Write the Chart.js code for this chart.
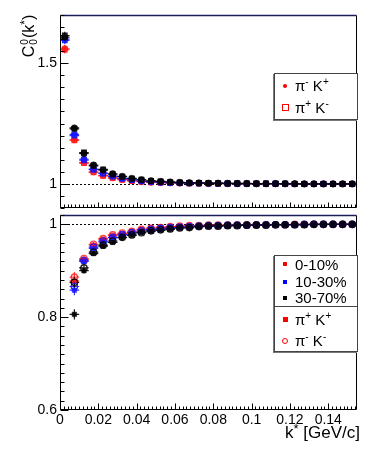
<!DOCTYPE html>
<html><head><meta charset="utf-8">
<script src="https://cdn.jsdelivr.net/npm/chart.js@4/dist/chart.umd.min.js"></script>
<style>
html,body{margin:0;padding:0;background:#fff;}
#wrap{position:relative;width:382px;height:457px;overflow:hidden;font-family:"Liberation Sans",Arial,Helvetica,sans-serif;color:#000;}
canvas{position:absolute;left:0;top:0;}
.leg{position:absolute;background:#fff;border:1px solid #444;box-shadow:-1px 1px 0 #777;box-sizing:border-box;}
.ent{position:absolute;left:20px;font-size:15px;line-height:15px;white-space:nowrap;}
.ent sup{font-size:10px;vertical-align:6px;line-height:0;}
.mk{position:absolute;box-sizing:border-box;}
#ytitle{position:absolute;left:-6px;top:26px;width:70px;height:20px;transform:rotate(-90deg);font-size:16px;line-height:20px;white-space:nowrap;text-align:center;}
#ytitle .ss{display:inline-block;vertical-align:middle;font-size:10px;line-height:9px;text-align:left;margin:0 1px 0 1px;position:relative;top:-1px;}
#ytitle .ss span{display:block;}
#xtitle{position:absolute;right:22px;top:424px;font-size:17px;line-height:18px;white-space:nowrap;}
#xtitle sup{font-size:13px;vertical-align:5px;line-height:0;}
</style>
</head><body>
<div id="wrap">
<canvas id="c1" width="382" height="457"></canvas>
<canvas id="c2" width="382" height="457"></canvas>
<div id="ytitle">C<span class="ss"><span>0</span><span>0</span></span>(k<sup style="font-size:12px;vertical-align:5px;line-height:0">*</sup>)</div>
<div id="xtitle">k<sup>*</sup> [GeV/c]</div>

<div class="leg" style="left:274px;top:73px;width:84px;height:47px;">
  <div class="mk" style="left:8px;top:10px;width:4px;height:4px;border-radius:50%;background:#f00;"></div>
  <div class="ent" style="top:4px;">π<sup>-</sup> K<sup>+</sup></div>
  <div class="mk" style="left:7px;top:30px;width:7px;height:7px;border:1.5px solid #f00;background:#fff;"></div>
  <div class="ent" style="top:26px;">π<sup>+</sup> K<sup>-</sup></div>
</div>

<div class="leg" style="left:274px;top:255px;width:84px;height:52px;">
  <div class="mk" style="left:8px;top:6px;width:4px;height:4px;background:#f00;"></div>
  <div class="ent" style="top:1px;">0-10%</div>
  <div class="mk" style="left:8px;top:24px;width:4px;height:4px;background:#00f;"></div>
  <div class="ent" style="top:18px;">10-30%</div>
  <div class="mk" style="left:8px;top:40px;width:4px;height:4px;background:#000;"></div>
  <div class="ent" style="top:34px;">30-70%</div>
</div>
<div class="leg" style="left:274px;top:306px;width:84px;height:46px;">
  <div class="mk" style="left:8px;top:10px;width:5px;height:5px;background:#f00;"></div>
  <div class="ent" style="top:5px;">π<sup>+</sup> K<sup>+</sup></div>
  <div class="mk" style="left:7px;top:31px;width:6px;height:6px;border:1.3px solid #f00;border-radius:50%;background:#fff;"></div>
  <div class="ent" style="top:26px;">π<sup>-</sup> K<sup>-</sup></div>
</div>
</div>

<script>
// ---------- data ----------
const kTop = [0.0025,0.0075,0.0125,0.0175,0.0225,0.0275,0.0325,0.0375,0.0425,0.0475,0.0525,0.0575,0.0625,0.0675,0.0725,0.0775,0.0825,0.0875,0.0925,0.0975,0.1025,0.1075,0.1125,0.1175,0.1225,0.1275,0.1325,0.1375,0.1425,0.1475,0.1525];
const topRedPmKp  = [1.560,1.183,1.088,1.050,1.035,1.025,1.018,1.013,1.009,1.007,1.005,1.004,1.003,1.003,1.002,1.002,1.002,1.001,1.001,1.001,1.001,1.001,1.001,1.000,1.000,1.000,1.000,1.000,1.000,1.000,1.000];
const topRedPpKm  = [1.556,1.180,1.086,1.048,1.033,1.024,1.017,1.012,1.009,1.006,1.005,1.004,1.003,1.002,1.002,1.002,1.001,1.001,1.001,1.001,1.001,1.001,1.000,1.000,1.000,1.000,1.000,1.000,1.000,1.000,1.000];
const topBluePmKp = [1.600,1.205,1.102,1.061,1.045,1.032,1.023,1.017,1.012,1.009,1.007,1.005,1.004,1.003,1.003,1.002,1.002,1.002,1.001,1.001,1.001,1.001,1.001,1.001,1.000,1.000,1.000,1.000,1.000,1.000,1.000];
const topBluePpKm = [1.595,1.200,1.098,1.059,1.043,1.031,1.022,1.016,1.012,1.009,1.006,1.005,1.004,1.003,1.002,1.002,1.002,1.001,1.001,1.001,1.001,1.001,1.001,1.000,1.000,1.000,1.000,1.000,1.000,1.000,1.000];
const topBlackPmKp= [1.608,1.232,1.126,1.078,1.057,1.042,1.031,1.023,1.017,1.013,1.010,1.008,1.006,1.005,1.004,1.003,1.003,1.002,1.002,1.002,1.001,1.001,1.001,1.001,1.001,1.000,1.000,1.000,1.000,1.000,1.000];
const topBlackPpKm= [1.615,1.228,1.130,1.075,1.060,1.040,1.030,1.022,1.017,1.012,1.010,1.007,1.006,1.004,1.004,1.003,1.002,1.002,1.002,1.001,1.001,1.001,1.001,1.001,1.000,1.000,1.000,1.000,1.000,1.000,1.000];
const errTop = [0.016,0.008,0.006,0.005,0.004,0.004,0.003,0.003,0.003,0.003,0.002,0.002,0.002,0.002,0.002,0.002,0.002,0.002,0.002,0.002,0.002,0.002,0.002,0.002,0.002,0.002,0.002,0.002,0.002,0.002,0.002];

const kBot = [0.0075,0.0125,0.0175,0.0225,0.0275,0.0325,0.0375,0.0425,0.0475,0.0525,0.0575,0.0625,0.0675,0.0725,0.0775,0.0825,0.0875,0.0925,0.0975,0.1025,0.1075,0.1125,0.1175,0.1225,0.1275,0.1325,0.1375,0.1425,0.1475,0.1525];
const botRedPpKp  = [0.878,0.924,0.955,0.968,0.976,0.980,0.985,0.989,0.992,0.994,0.995,0.996,0.997,0.997,0.998,0.998,0.998,0.999,0.999,0.999,0.999,0.999,0.999,1.000,1.000,1.000,1.000,1.000,1.000,1.000];
const botRedPmKm  = [0.886,0.926,0.957,0.969,0.977,0.981,0.985,0.989,0.991,0.993,0.995,0.996,0.997,0.997,0.998,0.998,0.998,0.999,0.999,0.999,0.999,0.999,0.999,1.000,1.000,1.000,1.000,1.000,1.000,1.000];
const botBluePpKp = [0.858,0.920,0.948,0.962,0.971,0.977,0.981,0.985,0.988,0.990,0.992,0.994,0.995,0.996,0.996,0.997,0.997,0.998,0.998,0.998,0.999,0.999,0.999,0.999,0.999,1.000,1.000,1.000,1.000,1.000];
const botBluePmKm = [0.866,0.922,0.951,0.964,0.972,0.978,0.982,0.986,0.989,0.991,0.993,0.994,0.995,0.996,0.997,0.997,0.998,0.998,0.998,0.999,0.999,0.999,0.999,0.999,1.000,1.000,1.000,1.000,1.000,1.000];
const botBlackPpKp= [0.806,0.900,0.937,0.953,0.961,0.971,0.976,0.982,0.985,0.987,0.989,0.992,0.993,0.995,0.996,0.996,0.997,0.997,0.998,0.998,0.998,0.999,0.999,0.999,0.999,0.999,1.000,1.000,1.000,1.000];
const botBlackPmKm= [0.875,0.906,0.940,0.955,0.964,0.972,0.977,0.982,0.986,0.988,0.990,0.992,0.993,0.995,0.996,0.996,0.997,0.997,0.998,0.998,0.998,0.999,0.999,0.999,0.999,1.000,1.000,1.000,1.000,1.000];
const errBot = [0.011,0.006,0.005,0.004,0.003,0.003,0.003,0.003,0.002,0.002,0.002,0.002,0.002,0.002,0.002,0.002,0.002,0.002,0.002,0.002,0.002,0.002,0.002,0.002,0.002,0.002,0.002,0.002,0.002,0.002];
const halfBin = 0.0025;

const xTickLabels = ['0','0.02','0.04','0.06','0.08','0.1','0.12','0.14'];

// ---------- styling ----------
const FONT = '"Liberation Sans", Arial, Helvetica, sans-serif';
const RED = 'rgba(255,20,20,0.8)', BLUE = 'rgba(20,20,255,0.85)', BLACK = 'rgba(0,0,0,0.9)';

function pts(xs, ys){ return xs.map((x,i)=>({x:x,y:ys[i]})); }
function ds(xs, ys, err, color, filled, style){
  return {data: pts(xs, ys), err: err, pointStyle: style, pointRadius: 3.2,
    backgroundColor: filled ? color : 'rgba(255,255,255,0)', borderColor: color, borderWidth: filled?0.5:1.3,
    showLine:false, errColor: color};
}
const fmt = v => String(parseFloat(Number(v).toFixed(3)));

const rootFrame = {
  id: 'rootFrame',
  beforeDatasetsDraw(chart){
    const ctx = chart.ctx, a = chart.chartArea, xs = chart.scales.x, ys = chart.scales.y;
    ctx.save();
    ctx.strokeStyle = '#000'; ctx.lineWidth = 1; ctx.setLineDash([2,2]);
    const y1 = Math.round(ys.getPixelForValue(1)) + 0.5;
    ctx.beginPath(); ctx.moveTo(a.left, y1); ctx.lineTo(a.right, y1); ctx.stroke();
    ctx.setLineDash([]);
    const n = chart.data.datasets.length;
    for (let d = n-1; d >= 0; d--) {
      const D = chart.data.datasets[d];
      ctx.strokeStyle = D.errColor; ctx.lineWidth = 1.2;
      D.data.forEach((p,i)=>{
        const px = xs.getPixelForValue(p.x), py = ys.getPixelForValue(p.y);
        ctx.beginPath();
        ctx.moveTo(xs.getPixelForValue(p.x-halfBin), py); ctx.lineTo(xs.getPixelForValue(p.x+halfBin), py);
        ctx.moveTo(px, ys.getPixelForValue(p.y - D.err[i])); ctx.lineTo(px, ys.getPixelForValue(p.y + D.err[i]));
        ctx.stroke();
      });
    }
    ctx.restore();
  },
  afterDatasetsDraw(chart, args, o){
    const ctx = chart.ctx, a = chart.chartArea, xs = chart.scales.x, ys = chart.scales.y;
    ctx.save();
    ctx.lineWidth = 1; ctx.strokeStyle = '#000';
    const L = Math.round(a.left)+0.5, R = Math.round(a.right)-0.5, T = Math.round(a.top)+0.5, B = Math.round(a.bottom)-0.5;
    ctx.beginPath(); ctx.moveTo(L,T); ctx.lineTo(L,B); ctx.lineTo(R,B); ctx.lineTo(R,T); ctx.stroke();
    ctx.strokeStyle = '#1c1c5c'; ctx.lineWidth = 1.5;
    ctx.beginPath(); ctx.moveTo(L,T); ctx.lineTo(R,T); ctx.stroke();
    ctx.strokeStyle = '#000'; ctx.lineWidth = 1;
    const ymin = ys.min, ymax = ys.max;
    for (let k = Math.ceil(ymin/o.yMinor - 1e-6); k*o.yMinor <= ymax + 1e-9; k++) {
      const v = k*o.yMinor;
      const major = Math.abs(v/o.yMajor - Math.round(v/o.yMajor)) < 1e-6;
      const py = Math.round(ys.getPixelForValue(v)) + 0.5;
      ctx.beginPath(); ctx.moveTo(L, py); ctx.lineTo(L + (major?8:4), py); ctx.stroke();
    }
    for (let k = 0; k*0.002 <= xs.max + 1e-9; k++) {
      const v = k*0.002;
      const major = k % 10 === 0;
      const px = Math.round(xs.getPixelForValue(v)) + 0.5;
      ctx.beginPath(); ctx.moveTo(px, B); ctx.lineTo(px, B - (major?o.xMajorLen:o.xMinorLen)); ctx.stroke();
    }
    ctx.restore();
  }
};

const yTicks = (step) => ({stepSize: step, includeBounds:false, autoSkip:false, padding:3, color:'#000',
  font:{family:FONT, size:14}, callback: fmt});

// first dataset is drawn on top in Chart.js
new Chart(document.getElementById('c1'), {
  type:'scatter',
  data:{datasets:[
    ds(kTop, topBlackPmKp, errTop, BLACK, true, 'circle'),
    ds(kTop, topBlackPpKm, errTop, BLACK, false, 'rect'),
    ds(kTop, topBluePmKp, errTop, BLUE, true, 'circle'),
    ds(kTop, topBluePpKm, errTop, BLUE, false, 'rect'),
    ds(kTop, topRedPmKp, errTop, RED, true, 'circle'),
    ds(kTop, topRedPpKm, errTop, RED, false, 'rect')
  ]},
  options:{
    responsive:false, animation:false, devicePixelRatio:1,
    layout:{padding:{top:15,right:25,bottom:249,left:0}},
    plugins:{legend:{display:false}, tooltip:{enabled:false},
      rootFrame:{yMinor:0.05, yMajor:0.5, xMajorLen:5, xMinorLen:3}},
    scales:{
      x:{type:'linear', min:0, max:0.155, display:false},
      y:{min:0.9, max:1.7, afterFit(s){s.width=60;}, grid:{display:false, drawTicks:false}, border:{display:false}, ticks:yTicks(0.5)}
    }
  },
  plugins:[rootFrame]
});

new Chart(document.getElementById('c2'), {
  type:'scatter',
  data:{datasets:[
    ds(kBot, botBlackPpKp, errBot, BLACK, true, 'rect'),
    ds(kBot, botBlackPmKm, errBot, BLACK, false, 'circle'),
    ds(kBot, botBluePpKp, errBot, BLUE, true, 'rect'),
    ds(kBot, botBluePmKm, errBot, BLUE, false, 'circle'),
    ds(kBot, botRedPpKp, errBot, RED, true, 'rect'),
    ds(kBot, botRedPmKm, errBot, RED, false, 'circle')
  ]},
  options:{
    responsive:false, animation:false, devicePixelRatio:1,
    layout:{padding:{top:215,right:25,bottom:17,left:0}},
    plugins:{legend:{display:false}, tooltip:{enabled:false},
      rootFrame:{yMinor:0.02, yMajor:0.2, xMajorLen:6, xMinorLen:3}},
    scales:{
      x:{type:'linear', min:0, max:0.155, afterFit(s){s.height=30;},
        grid:{display:false, drawTicks:false}, border:{display:false},
        ticks:{stepSize:0.02, includeBounds:false, autoSkip:false, maxRotation:0, padding:2, color:'#000',
          font:{family:FONT, size:14}, callback:(v,i)=> xTickLabels[Math.round(v/0.02)] ?? fmt(v)}},
      y:{min:0.6, max:1.02, afterFit(s){s.width=60;}, grid:{display:false, drawTicks:false}, border:{display:false}, ticks:yTicks(0.2)}
    }
  },
  plugins:[rootFrame]
});
</script>
</body></html>
